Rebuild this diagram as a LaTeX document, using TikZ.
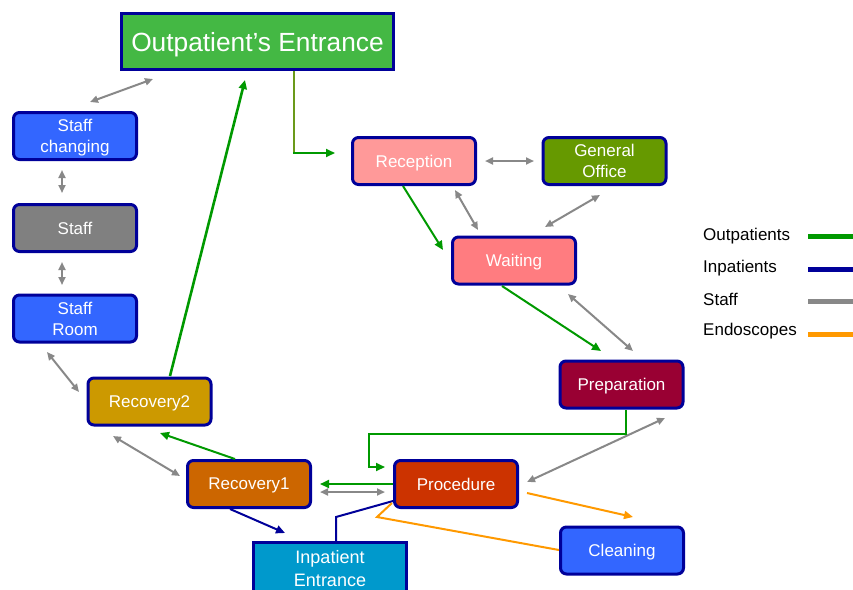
\documentclass[tikz,border=0pt]{standalone}
\usepackage{fontspec}
\setmainfont{Liberation Sans}
\usetikzlibrary{arrows.meta,calc}
\definecolor{bord}{HTML}{000099}
\definecolor{cgreen}{HTML}{009900}
\definecolor{cgray}{HTML}{888888}
\definecolor{corange}{HTML}{FF9900}
\definecolor{colive}{HTML}{6B9A1A}
\definecolor{fout}{HTML}{44B844}
\definecolor{fblue}{HTML}{3366FF}
\definecolor{fgray}{HTML}{808080}
\definecolor{frec2}{HTML}{CC9900}
\definecolor{frec1}{HTML}{CC6600}
\definecolor{fproc}{HTML}{CC3300}
\definecolor{fprep}{HTML}{990033}
\definecolor{fwait}{HTML}{FF7C80}
\definecolor{frecep}{HTML}{FF9999}
\definecolor{fgen}{HTML}{669900}
\definecolor{finp}{HTML}{0099CC}
\tikzset{
  box/.style={draw=bord, line width=3pt, rounded corners=6pt, minimum width=123pt, minimum height=47pt, inner sep=0pt, text=white, font=\fontsize{17}{21}\selectfont, align=center, text depth=0pt},
  sbox/.style={box, rounded corners=0pt},
  tip/.style={-{Triangle[length=9pt,width=8pt]}},
  dtip/.style={{Triangle[length=8pt,width=7pt]}-{Triangle[length=8pt,width=7pt]}},
  grn/.style={draw=cgreen, line width=2pt, tip},
  gry/.style={draw=cgray, line width=2pt, dtip},
  nav/.style={draw=bord, line width=2pt},
  org/.style={draw=corange, line width=2pt},
  leg/.style={anchor=west, font=\fontsize{17}{20}\selectfont, text=black, inner sep=0pt},
  legline/.style={line width=5pt}
}
\begin{document}
\begin{tikzpicture}[x=1pt,y=-1pt]
\useasboundingbox (0,0) rectangle (853,589);
\node[sbox, fill=fout, minimum width=272pt, minimum height=56pt, font=\fontsize{26.3}{30}\selectfont] (outp) at (257.5,41.5) {Outpatient’s Entrance};
\node[box, fill=fblue] (sc) at (75,136) {Staff\\changing};
\node[box, fill=fgray] (staff) at (75,228) {Staff};
\node[box, fill=fblue] (sroom) at (75,318.5) {Staff\\Room};
\node[box, fill=frec2] (rec2) at (149.5,401.5) {Recovery2};
\node[box, fill=frec1] (rec1) at (249,484) {Recovery1};
\node[box, fill=fproc] (proc) at (456,484) {Procedure};
\node[box, fill=fblue] (clean) at (622,550.5) {Cleaning};
\node[box, fill=fprep] (prep) at (621.5,384.5) {Preparation};
\node[box, fill=fwait] (wait) at (514,260.5) {Waiting};
\node[box, fill=frecep] (recep) at (414,161) {Reception};
\node[box, fill=fgen] (gen) at (604.5,161) {General\\Office};
\node[sbox, fill=finp, minimum width=153pt, minimum height=56pt, font=\fontsize{18}{23.5}\selectfont, text depth=4pt] (inp) at (330,570.5) {Inpatient\\Entrance};

% staff arrows
\draw[gry] ($(sc)+(15,-34)$) -- ($(outp)+(-104.5,37.5)$);
\draw[gry] ($(sc)+(-13,34)$) -- ($(staff)+(-13,-35)$);
\draw[gry] ($(staff)+(-13,34)$) -- ($(sroom)+(-13,-33.5)$);
\draw[gry] ($(sroom)+(-28,33.5)$) -- ($(rec2)+(-70.5,-9.5)$);
\draw[gry] ($(rec2)+(-36.5,34.5)$) -- ($(rec1)+(-69,-8)$);
\draw[gry] ($(recep)+(71,0)$) -- ($(gen)+(-70.5,0)$);
\draw[gry] ($(recep)+(41,29)$) -- ($(wait)+(-36,-30.5)$);
\draw[gry] ($(gen)+(-4.5,34)$) -- ($(wait)+(31,-33.5)$);
\draw[gry] ($(wait)+(54,33.5)$) -- ($(prep)+(11.5,-33.5)$);
\draw[gry] ($(prep)+(43.5,33.5)$) -- ($(proc)+(71,-2)$);
\draw[gry] ($(rec1)+(71,8)$) -- ($(proc)+(-71,8)$);

% outpatient arrows
\draw[grn] ($(rec1)+(-14,-25)$) -- ($(rec2)+(10.5,31.5)$);
\draw[grn, line width=2.6pt] ($(rec2)+(20.5,-25.5)$) -- ($(outp)+(-12.5,38.5)$);
\coordinate (oc) at ($(outp)+(36.5,111.5)$);
\draw[draw=colive, line width=2pt] ($(outp)+(36.5,29.5)$) -- (oc);
\draw[grn] ([xshift=-1pt]oc) -- ($(recep)+(-79,-8)$);
\draw[grn] ($(recep)+(-11,25)$) -- ($(wait)+(-71,-10.5)$);
\draw[grn] ($(wait)+(-12,25.5)$) -- ($(prep)+(-20.5,-33.5)$);
\draw[grn] ($(prep)+(4.5,25.5)$) -- ++(0,24) -| ($(proc)+(-87,-17)$) -- ($(proc)+(-71,-17)$);
\draw[grn] ($(proc)+(-63,0)$) -- ($(rec1)+(71,0)$);

% inpatients
\draw[nav, tip] ($(rec1)+(-19,25)$) -- ($(inp)+(-45,-37.5)$);
\draw[nav] ($(inp)+(6,-28.5)$) -- ($(inp)+(6,-53.5)$) -- ($(proc)+(-63,17)$);

% endoscopes
\draw[org, tip] ($(proc)+(71,9)$) -- ($(clean)+(11,-33.5)$);
\draw[org] ($(clean)+(-63,-0.5)$) -- ($(proc)+(-79,33)$) -- ($(proc)+(-64,19)$);

% legend
\node[leg] (l1) at (703,236) {Outpatients};
\node[leg] (l2) at (703,268) {Inpatients};
\node[leg] (l3) at (703,299) {Staff};
\node[leg] (l4) at (703,331) {Endoscopes};
\coordinate (c1) at (808,236.5);
\coordinate (c2) at (808,269);
\coordinate (c3) at (808,301.5);
\coordinate (c4) at (808,334);
\draw[legline, cgreen] (c1) -- ++(45,0);
\draw[legline, bord] (c2) -- ++(45,0);
\draw[legline, cgray] (c3) -- ++(45,0);
\draw[legline, corange] (c4) -- ++(45,0);
\end{tikzpicture}
\end{document}
